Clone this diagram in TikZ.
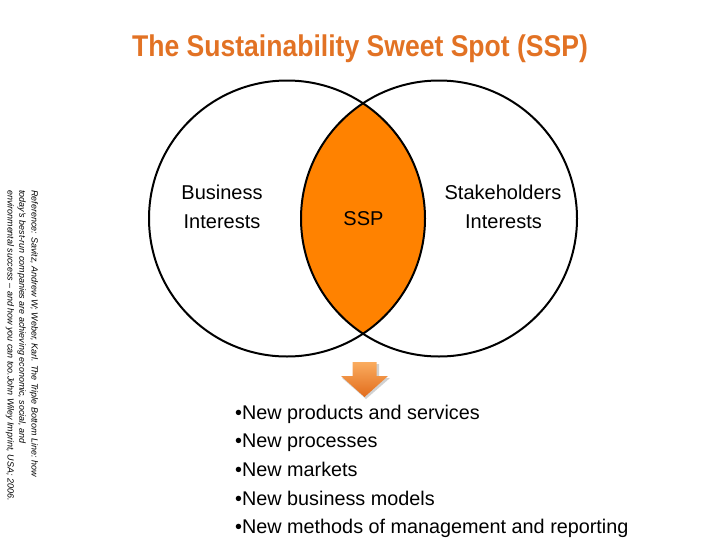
\documentclass[tikz,border=0pt]{standalone}
\usepackage{fontspec}
\setmainfont{Liberation Sans}
\usepackage{graphicx}
\definecolor{titleorange}{RGB}{226,114,36}
\definecolor{sspfill}{RGB}{255,130,0}
\definecolor{arrowtop}{RGB}{250,172,95}
\definecolor{arrowbot}{RGB}{226,108,28}
\begin{document}
\begin{tikzpicture}[x=1pt,y=-1pt,
  label20/.style={font=\fontsize{20}{24}\selectfont, inner sep=0pt, anchor=base},
  bulletitem/.style={font=\fontsize{19.8}{24}\selectfont, inner sep=0pt, anchor=base west},
  citeline/.style={font=\fontsize{8.95}{10}\selectfont\itshape, inner sep=0pt, anchor=base west, rotate=-90},
  venn/.style={circle, draw=black, line width=2pt, minimum size=276pt, inner sep=0pt}]
\useasboundingbox (0,0) rectangle (728,546);
% title
\node[inner sep=0pt, anchor=base, text=titleorange] (title) at (360,56.5)
  {\scalebox{0.885}[1]{\fontsize{30}{36}\selectfont\bfseries The Sustainability Sweet Spot (SSP)}};
% lens fill
\begin{scope}
  \clip (287,218.5) circle (138);
  \fill[sspfill] (439,218.5) circle (138);
\end{scope}
% circles
\node[venn] (L) at (287,218.5) {};
\node[venn] (R) at (439,218.5) {};
% labels
\node[label20] (bus1) at (222,199) {Business};
\node[label20] (bus2) at (222,228) {Interests};
\node[label20] (ssp) at (363.5,225.5) {SSP};
\node[label20] (stk1) at (503,199) {Stakeholders};
\node[label20] (stk2) at (503.5,228) {Interests};
% arrow
\fill[black!18] (355,364) -- (379,364) -- (379,378) -- (390,378) -- (366,399) -- (342,378) -- (355,378) -- cycle;
\shade[top color=arrowtop, bottom color=arrowbot]
  (352.5,362) -- (376.5,362) -- (376.5,376) -- (388,376) -- (364.5,397) -- (341,376) -- (352.5,376) -- cycle;
% bullets
\node[bulletitem] (b1) at (235,419) {\textbullet New products and services};
\node[bulletitem] (b2) at (235,447.5) {\textbullet New processes};
\node[bulletitem] (b3) at (235,476) {\textbullet New markets};
\node[bulletitem] (b4) at (235,505) {\textbullet New business models};
\node[bulletitem] (b5) at (235,533) {\textbullet New methods of management and reporting};
% citation
\node[citeline] (c1) at (31.5,190) {Reference: Savitz, Andrew W; Weber, Karl. The Triple Bottom Line: how};
\node[citeline] (c2) at (19.5,190) {today's best-run companies are achieving economic, social, and};
\node[citeline] (c3) at (7.5,190) {environmental success – and how you can too.John Wiley Imprint, USA; 2006.};
\end{tikzpicture}
\end{document}
